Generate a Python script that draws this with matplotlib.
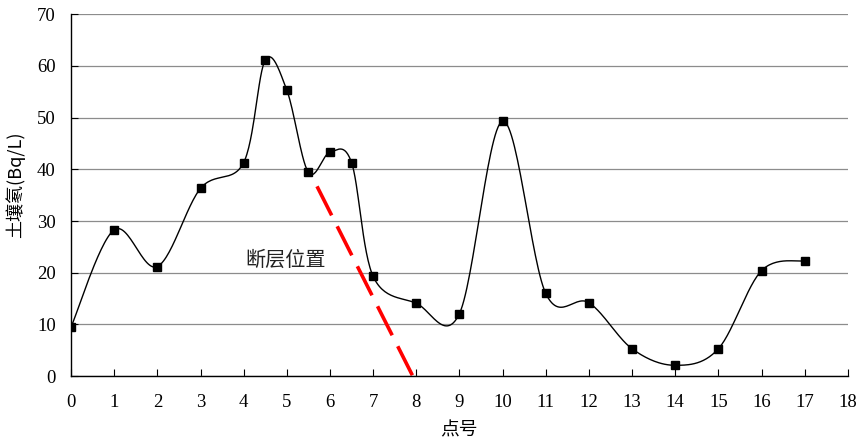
import numpy as np
import matplotlib
matplotlib.use("Agg")
from matplotlib import pyplot as plt

plt.rcParams['font.family'] = ['Liberation Serif', 'Noto Sans CJK SC', 'DejaVu Sans']

# measured points
point_no = [0, 1, 2, 3, 4, 4.5, 5, 5.5, 6, 6.5, 7, 8, 9, 10, 11, 12, 13, 14, 15, 16, 17]
radon = [9.5, 28.3, 21.2, 36.3, 41.3, 61.1, 55.3, 39.4, 43.3, 41.3, 19.3, 14.1, 12.1, 49.3,
         16.0, 14.2, 5.3, 2.1, 5.3, 20.4, 22.3]

# fault position line (start, end)
fault_x = [5.70, 7.92]
fault_y = [36.7, 0.0]
fault_label = "断层位置"


def smooth_curve(x, y, steps=30):
    """Catmull-Rom style smoothing, like spreadsheet smoothed lines."""
    x = np.asarray(x, float)
    y = np.asarray(y, float)
    px = np.concatenate([[x[0]], x, [x[-1]]])
    py = np.concatenate([[y[0]], y, [y[-1]]])
    xs, ys = [], []
    t = np.linspace(0, 1, steps)
    for i in range(1, len(px) - 2):
        p0 = np.array([px[i], py[i]])
        p3 = np.array([px[i + 1], py[i + 1]])
        c1 = p0 + (np.array([px[i + 1], py[i + 1]]) - np.array([px[i - 1], py[i - 1]])) / 6
        c2 = p3 - (np.array([px[i + 2], py[i + 2]]) - np.array([px[i], py[i]])) / 6
        b = ((1 - t) ** 3)[:, None] * p0 + (3 * (1 - t) ** 2 * t)[:, None] * c1 \
            + (3 * (1 - t) * t ** 2)[:, None] * c2 + (t ** 3)[:, None] * p3
        xs.extend(b[:, 0])
        ys.extend(b[:, 1])
    return np.array(xs), np.array(ys)


fig = plt.figure(figsize=(8.59, 4.41), dpi=100)
ax = fig.add_axes([0.0827, 0.147, 0.9043, 0.821])

sx, sy = smooth_curve(point_no, radon)
ax.plot(sx, sy, color='black', lw=1.0, zorder=3)
ax.plot(point_no, radon, ls='none', marker='s', ms=6, color='black', zorder=4)

ax.plot(fault_x, fault_y, color='#ff0000', lw=2.6, dashes=(9, 3.4), zorder=2)
ax.text(4.03, 22.4, fault_label, fontsize=14.5, family=['Noto Sans CJK SC'],
        color='#222222', ha='left', va='center')

ax.set_xlim(0, 18)
ax.set_ylim(0, 70)
ax.set_xticks(range(0, 19))
ax.set_yticks(range(0, 71, 10))
ax.yaxis.grid(True, color='#8c8c8c', lw=0.9)
ax.set_axisbelow(True)
for s in ['top', 'right']:
    ax.spines[s].set_visible(False)
ax.spines['left'].set_linewidth(1.0)
ax.spines['bottom'].set_linewidth(1.0)
ax.tick_params(axis='x', direction='in', length=5, labelsize=13.5, pad=13)
ax.tick_params(axis='y', direction='in', length=5, labelsize=13.5, pad=11)

ax.set_xlabel("点号", fontsize=13.5, family=['Noto Sans CJK SC'], labelpad=6)
ax.set_ylabel("土壤氡(Bq/L)", fontsize=13, family=['Noto Sans CJK SC', 'Liberation Serif'])
ax.yaxis.set_label_coords(-0.059, 0.53)

fig.savefig("out.png", dpi=100)
